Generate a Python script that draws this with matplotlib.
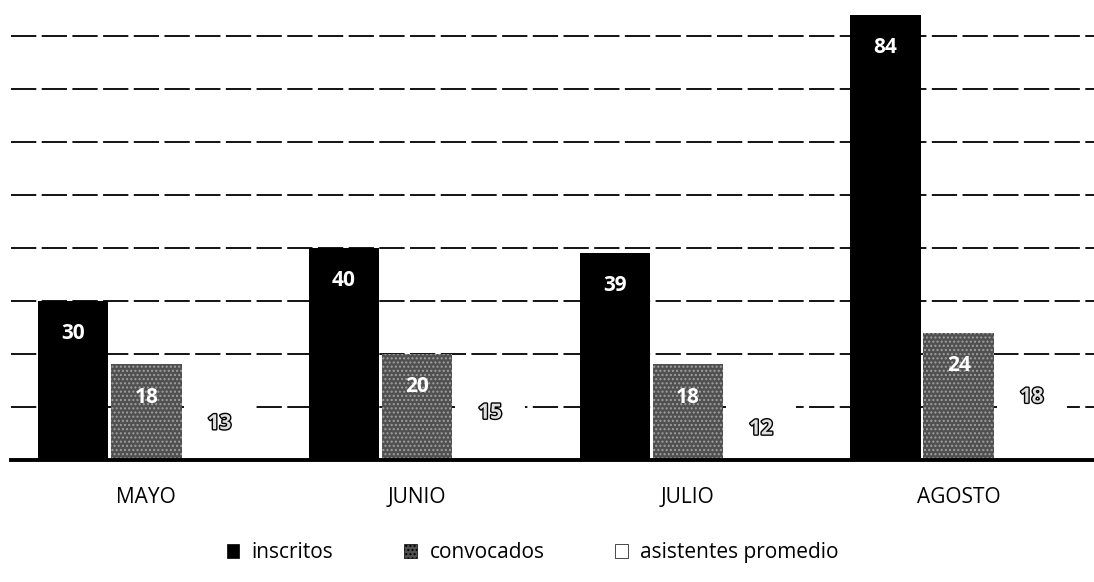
import matplotlib.pyplot as plt
import matplotlib.patheffects as pe
import numpy as np

plt.rcParams['font.family'] = ['Open Sans', 'DejaVu Sans']

meses = ["MAYO", "JUNIO", "JULIO", "AGOSTO"]
inscritos = [30, 40, 39, 84]
convocados = [18, 20, 18, 24]
asistentes = [13, 15, 12, 18]

fig = plt.figure(figsize=(10.94, 5.82), dpi=100)
ax = fig.add_axes([0.01, 0.21, 0.99, 0.79])

x = np.arange(len(meses))
w = 0.26
b1 = ax.bar(x - w - 0.01, inscritos, w, color="black", label="inscritos", zorder=3)
b2 = ax.bar(x, convocados, w, color="#505050", hatch="....", edgecolor="#a0a0a0",
            linewidth=0, label="convocados", zorder=3)
b3 = ax.bar(x + w + 0.01, asistentes, w, color="white", label="asistentes promedio", zorder=3)

for bars in (b1, b2):
    for r in bars:
        ax.text(r.get_x() + r.get_width() / 2, r.get_height() - 4.2, str(int(r.get_height())),
                ha="center", va="top", color="white", fontsize=15, fontweight="bold", zorder=4)
for r in b3:
    ax.text(r.get_x() + r.get_width() / 2, r.get_height() - 4.2, str(int(r.get_height())),
            ha="center", va="top", color="#e0e0e0", fontsize=15, fontweight="bold", zorder=4,
            path_effects=[pe.withStroke(linewidth=2, foreground="black")])

ax.set_ylim(0, 86.8)
ax.set_xlim(-0.5, 3.5)
ax.set_yticks(np.arange(10, 90, 10))
ax.yaxis.grid(True, color="black", linewidth=1.3, linestyle=(0, (14, 3)), zorder=0)
ax.tick_params(axis="y", left=False, labelleft=False)
ax.tick_params(axis="x", bottom=False, labelsize=15, pad=16)
ax.set_xticks(x)
ax.set_xticklabels(meses)
for s in ["top", "right", "left"]:
    ax.spines[s].set_visible(False)
ax.spines["bottom"].set_linewidth(2.8)
ax.spines["bottom"].set_zorder(5)

leg = fig.legend(handles=[b1, b2, b3], loc="center", bbox_to_anchor=(0.487, 0.05), ncol=3,
                 frameon=False, fontsize=15, handlelength=0.6, handleheight=0.6,
                 columnspacing=3.4, handletextpad=0.6)
for h in leg.legend_handles:
    h.set_edgecolor("black")
    h.set_linewidth(0.5)

fig.savefig("out.png", dpi=100)
